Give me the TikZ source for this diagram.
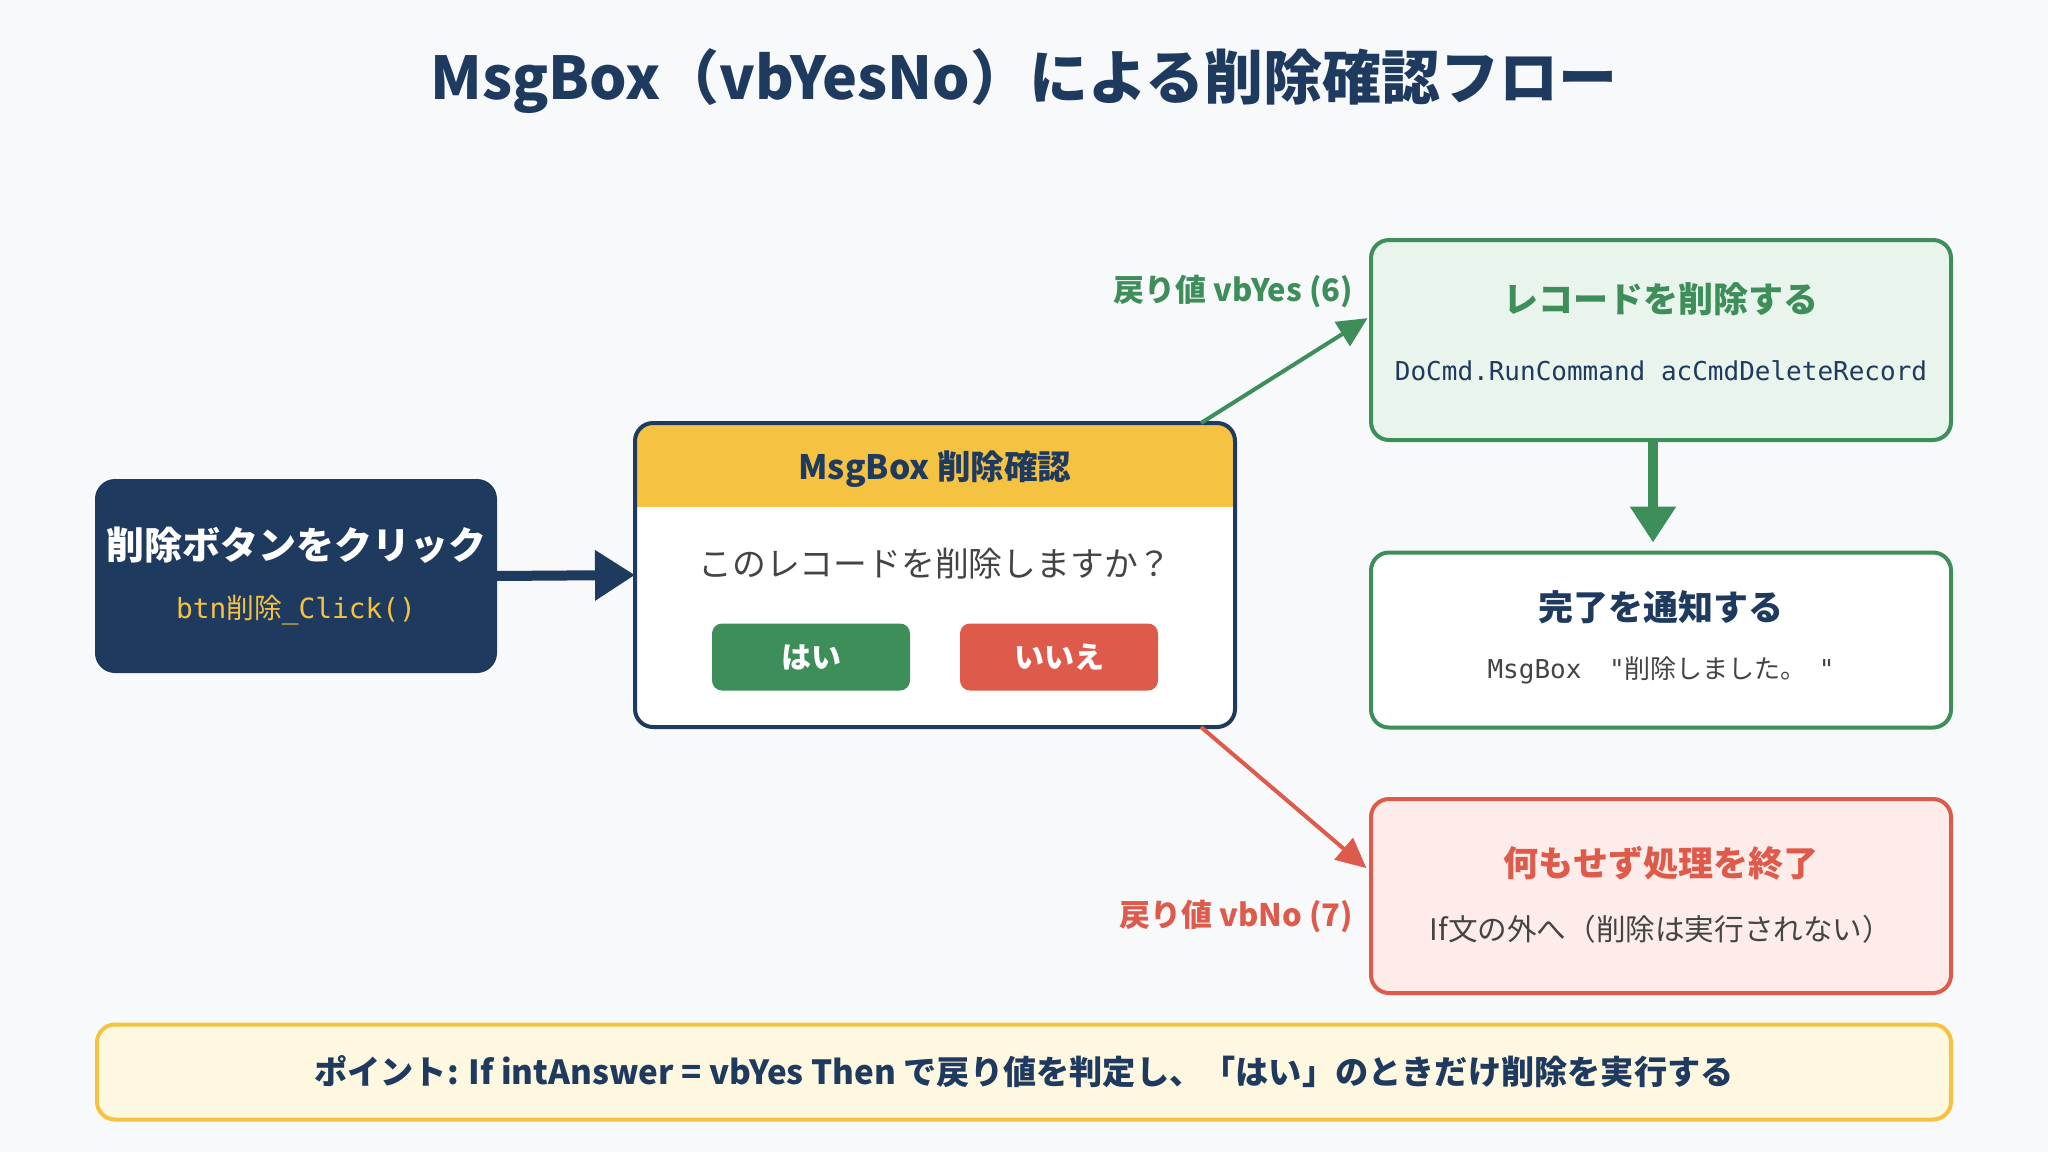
\documentclass[tikz,border=0pt]{standalone}
\usepackage{fontspec}
\setmainfont{Noto Sans CJK JP}
\newfontfamily\codefont{DejaVu Sans Mono}
\newfontfamily\jpfont{Noto Sans CJK JP}
\usetikzlibrary{arrows.meta,calc}
\definecolor{bg}{HTML}{F7F9FB}
\definecolor{navy}{HTML}{1F3A5F}
\definecolor{gold}{HTML}{F5C242}
\definecolor{okgreen}{HTML}{3E8E5A}
\definecolor{okfill}{HTML}{E8F4EC}
\definecolor{ngred}{HTML}{DE5B4B}
\definecolor{ngfill}{HTML}{FDECEA}
\definecolor{cream}{HTML}{FFF8E1}
\definecolor{txtgray}{HTML}{444444}
\newcommand{\fsz}[1]{\fontsize{#1}{#1}\selectfont}
\tikzset{
	box/.style={draw, line width=2pt, rounded corners=9pt, inner sep=0pt, outer sep=0pt},
	btn/.style={rounded corners=5pt, minimum width=99pt, minimum height=33.5pt, text=white, font=\bfseries\fsz{15}},
	headtxt/.style={font=\bfseries\fsz{17.5}},
	codetxt/.style={font=\codefont\fsz{13}},
}

\begin{document}
\begin{tikzpicture}[x=0.5pt,y=-0.5pt]
\useasboundingbox[fill=bg] (0,0) rectangle (2048,1152);

% title
\node[text=navy, font=\bfseries\fsz{29.5}] (title) at (1024,81) {MsgBox（vbYesNo）による削除確認フロー};

% start
\node[box, draw=navy, fill=navy, minimum width=199pt, minimum height=95pt] (click) at (296,576) {};
\node[text=white, font=\bfseries\fsz{19}] (clicktxt) at (296,545) {削除ボタンをクリック};
\node[text=gold, font=\codefont\fsz{13.9}] (clickcode) at (296,610) {btn{\jpfont 削除}\_Click()};

% msgbox
\node[box, draw=none, fill=white, minimum width=300pt, minimum height=152pt] (msg) at (935,575) {};
\begin{scope}
\clip[rounded corners=9pt] (msg.south west) rectangle (msg.north east);
\fill[gold] (msg.north west) rectangle ($(msg.north east)+(0,84)$);
\end{scope}
\draw[navy, line width=2pt, rounded corners=9pt] (msg.south west) rectangle (msg.north east);
\node[text=navy, font=\bfseries\fsz{16.8}] (msgtitle) at (935,469) {MsgBox 削除確認};
\node[text=txtgray, font=\fsz{16.9}] (msgtxt) at (935,564) {このレコードを削除しますか？};
\node[btn, fill=okgreen] (yes) at (811,657) {はい};
\node[btn, fill=ngred] (no) at (1059,657) {いいえ};

% yes branch
\node[box, draw=okgreen, fill=okfill, minimum width=290pt, minimum height=100pt] (del) at (1661,340) {};
\node[text=okgreen, headtxt] (deltxt) at (1661,299) {レコードを削除する};
\node[text=navy, codetxt] (delcode) at (1661,371) {DoCmd.RunCommand acCmdDeleteRecord};

\node[box, draw=okgreen, fill=white, minimum width=290pt, minimum height=87.5pt] (done) at (1661,640) {};
\node[text=navy, headtxt] (donetxt) at (1661,607) {完了を通知する};
\node[text=txtgray, codetxt] (donecode) at (1661,670) {MsgBox\hspace{6pt} "{\jpfont 削除しました。}\hspace{6pt}"};

% no branch
\node[box, draw=ngred, fill=ngfill, minimum width=290pt, minimum height=97pt] (stop) at (1661,896) {};
\node[text=ngred, headtxt] (stoptxt) at (1661,863) {何もせず処理を終了};
\node[text=txtgray, font=\fsz{14.8}] (stopsub) at (1661,929) {If文の外へ（削除は実行されない）};

% arrows
\draw[navy, line width=5pt, -{Triangle[length=20pt,width=24pt]}] (click.east) -- (msg.west);
\draw[okgreen, line width=2pt, -{Triangle[length=15pt,width=14pt]}, shorten >=2pt] ([xshift=-17pt]msg.north east) -- ([yshift=12pt]del.west);
\draw[okgreen, line width=5pt, -{Triangle[length=18pt,width=22pt]}, shorten >=5pt] ([xshift=-4pt]del.south) -- ([xshift=-4pt]done.north);
\draw[ngred, line width=2pt, -{Triangle[length=15pt,width=14pt]}, shorten >=3pt] ([xshift=-17pt]msg.south east) -- ([yshift=12pt]stop.west);
\node[anchor=east, text=okgreen, font=\bfseries\fsz{15.5}] (yeslbl) at (1360,291) {戻り値 vbYes (6)};
\node[anchor=east, text=ngred, font=\bfseries\fsz{15.5}] (nolbl) at (1360,916) {戻り値 vbNo (7)};

% note
\node[box, draw=gold, fill=cream, minimum width=927pt, minimum height=47.5pt, text=navy, font=\bfseries\fsz{16.6}] (note) at (1024,1072) {ポイント: If intAnswer = vbYes Then で戻り値を判定し、「はい」のときだけ削除を実行する};
\end{tikzpicture}
\end{document}
